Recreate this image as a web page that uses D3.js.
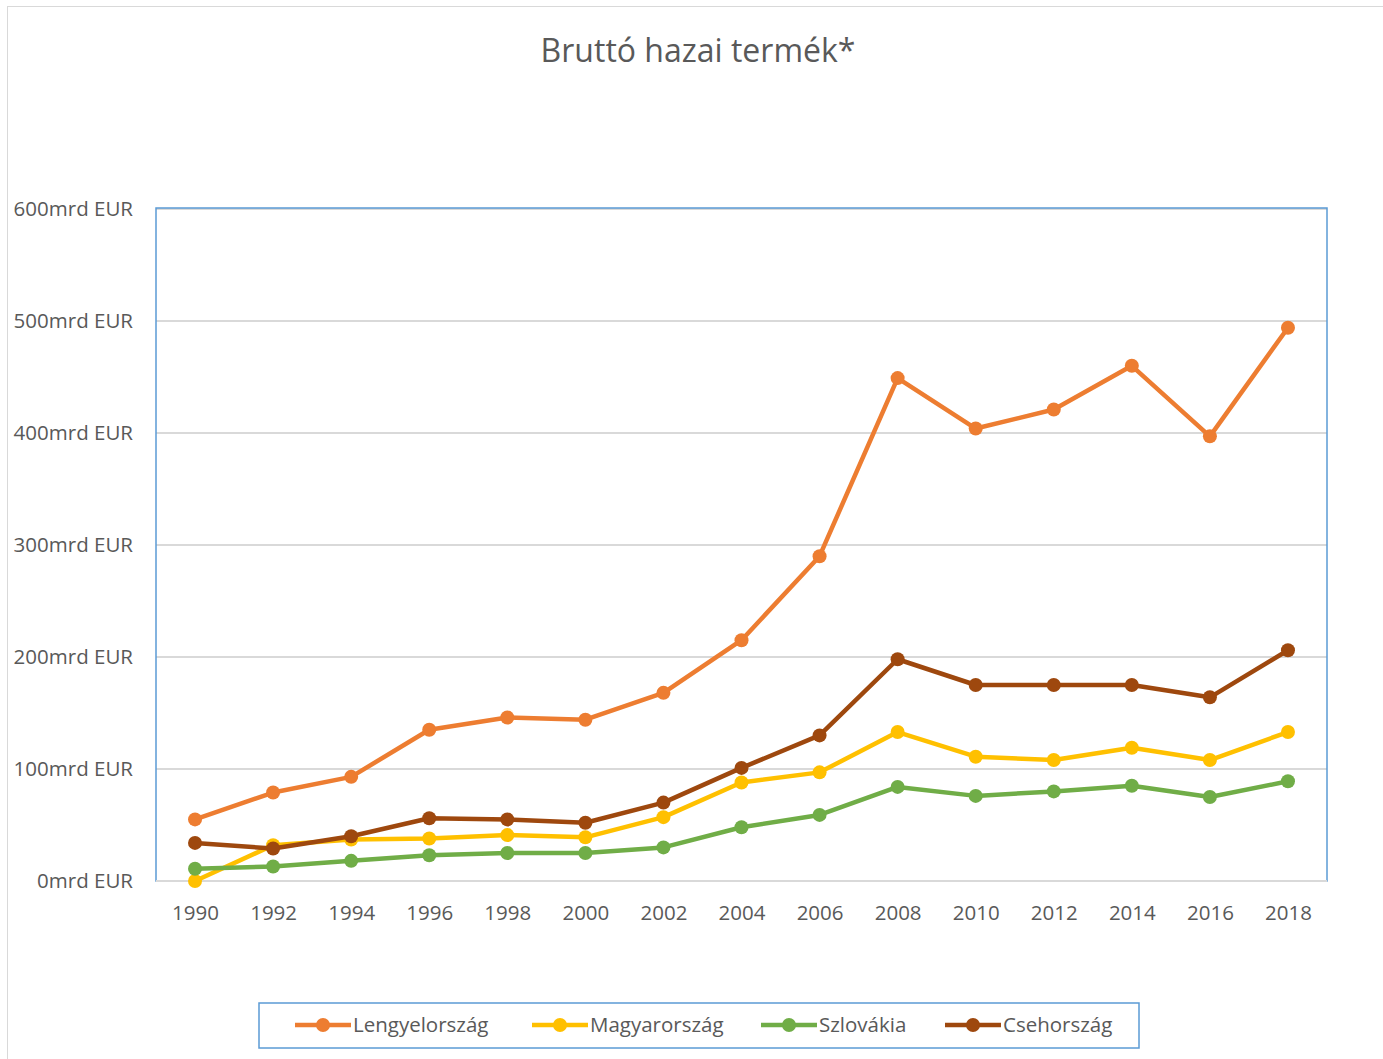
<!DOCTYPE html>
<html><head><meta charset="utf-8">
<script src="https://cdn.jsdelivr.net/npm/d3@7"></script>
<style>body{margin:0;background:#fff;} svg{display:block;}</style>
</head><body>
<script>
const years = ["1990","1992","1994","1996","1998","2000","2002","2004","2006","2008","2010","2012","2014","2016","2018"];
const lengyel = [55,79,93,135,146,144,168,215,290,449,404,421,460,397,494];
const magyar = [0,32,37,38,41,39,57,88,97,133,111,108,119,108,133];
const szlovak = [11,13,18,23,25,25,30,48,59,84,76,80,85,75,89];
const cseh = [34,29,40,56,55,52,70,101,130,198,175,175,175,164,206];
const seriesNames = ["Lengyelország","Magyarország","Szlovákia","Csehország"];
const colors = ["#ed7d31","#ffc000","#70ad47","#9e480e"];
const yTicks = [0,100,200,300,400,500,600];

(function(){
const W = 1383, H = 1059;
const svg = d3.select("body").append("svg").attr("width", W).attr("height", H);
const font = "'Open Sans', Lato, sans-serif";

svg.append("rect").attr("x",7.5).attr("y",6.5).attr("width",W).attr("height",H)
  .attr("fill","#fff").attr("stroke","#d9d9d9");

const pL = 156, pR = 1327, pT = 209, pB = 881;
const x = d3.scalePoint().domain(years).range([pL, pR]).padding(0.5);
const y = d3.scaleLinear().domain([0,600]).range([pB, pT]);

svg.append("text").attr("x", 698).attr("y", 62).attr("text-anchor","middle")
  .attr("font-family", font).attr("font-size", 32).attr("fill","#595959").text("Bruttó hazai termék*");

svg.append("g").selectAll("line").data(yTicks.slice(1)).join("line")
  .attr("x1", pL).attr("x2", pR).attr("y1", d=>y(d)).attr("y2", d=>y(d))
  .attr("stroke","#d9d9d9").attr("stroke-width",2);

svg.append("rect").attr("x", pL).attr("y", pT-1).attr("width", pR-pL).attr("height", pB-pT+1)
  .attr("fill","none").attr("stroke","#5b9bd5").attr("stroke-width",1.5);
svg.append("line").attr("x1",pL).attr("x2",pR).attr("y1",pB).attr("y2",pB)
  .attr("stroke","#d9d9d9").attr("stroke-width",2);

const yAxis = d3.axisLeft(y).tickValues(yTicks).tickSize(0).tickPadding(0).tickFormat(d => d + "mrd EUR");
const ya = svg.append("g").attr("transform", `translate(${133},0)`).call(yAxis);
ya.select(".domain").remove();
ya.selectAll("text").attr("font-family", font).attr("font-size", 20.5).attr("fill","#595959");

const xAxis = d3.axisBottom(x).tickSize(0).tickPadding(0);
const xa = svg.append("g").attr("transform", `translate(0,${pB+24})`).call(xAxis);
xa.select(".domain").remove();
xa.selectAll("text").attr("font-family", font).attr("font-size", 20.5).attr("fill","#595959");

const data = [lengyel, magyar, szlovak, cseh];
const line = d3.line().x((d,i)=>x(years[i])).y(d=>y(d));
data.forEach((vals, k) => {
  const g = svg.append("g");
  g.append("path").datum(vals).attr("d", line).attr("fill","none")
    .attr("stroke", colors[k]).attr("stroke-width", 4.5).attr("stroke-linejoin","round");
  g.selectAll("circle").data(vals).join("circle")
    .attr("cx",(d,i)=>x(years[i])).attr("cy", d=>y(d)).attr("r", 7).attr("fill", colors[k]);
});

svg.append("rect").attr("x",259).attr("y",1003).attr("width",880).attr("height",45)
  .attr("fill","#fff").attr("stroke","#5b9bd5").attr("stroke-width",1.5);
const legX = [295, 532, 761, 945];
seriesNames.forEach((n,k) => {
  const g = svg.append("g").attr("transform", `translate(${legX[k]},1025)`);
  g.append("line").attr("x1",0).attr("x2",56).attr("stroke",colors[k]).attr("stroke-width",4.5);
  g.append("circle").attr("cx",28).attr("r",7).attr("fill",colors[k]);
  g.append("text").attr("x",58).attr("y",7).attr("font-family",font).attr("font-size",20.5)
    .attr("fill","#595959").text(n);
});
})();
</script>
</body></html>
